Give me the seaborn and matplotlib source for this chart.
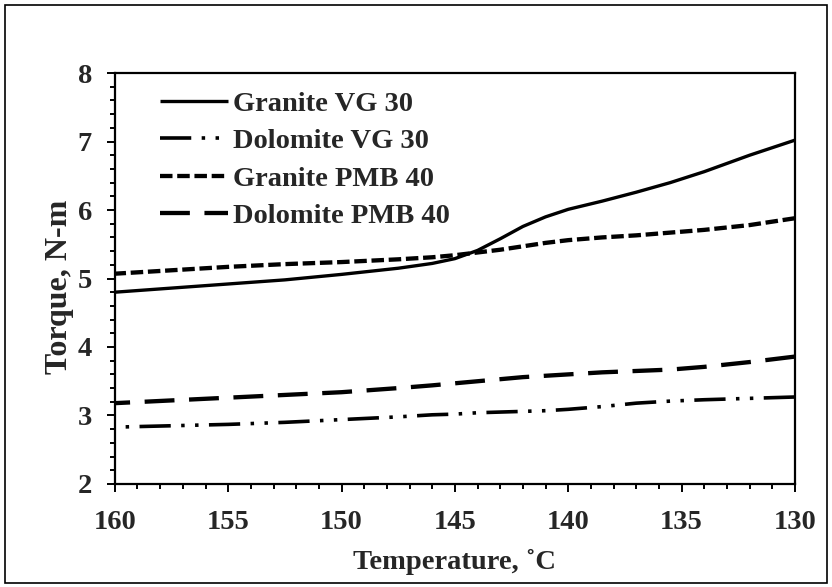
import matplotlib
matplotlib.use("Agg")
import matplotlib.pyplot as plt
from matplotlib.patches import Rectangle
from matplotlib.ticker import MultipleLocator
import numpy as np
import pandas as pd
import seaborn as sns

# Test temperatures (deg C) and measured torque (N-m) for each binder/aggregate mix
temperature = [160, 157.5, 155, 152.5, 150, 147.5, 146, 145, 144, 143, 142, 141,
               140, 138.5, 137, 135.5, 134, 132, 130]
granite_vg30 = [4.80, 4.86, 4.92, 4.98, 5.06, 5.15, 5.22, 5.29, 5.41, 5.58, 5.76, 5.90,
                6.01, 6.13, 6.26, 6.40, 6.56, 6.80, 7.02]
dolomite_vg30 = [2.83, 2.85, 2.87, 2.90, 2.94, 2.98, 3.01, 3.02, 3.04, 3.05, 3.06, 3.07,
                 3.09, 3.13, 3.18, 3.21, 3.23, 3.25, 3.27]
granite_pmb40 = [5.07, 5.12, 5.17, 5.21, 5.24, 5.28, 5.31, 5.34, 5.38, 5.42, 5.47, 5.52,
                 5.56, 5.60, 5.63, 5.67, 5.71, 5.78, 5.88]
dolomite_pmb40 = [3.18, 3.22, 3.26, 3.30, 3.34, 3.40, 3.44, 3.47, 3.50, 3.53, 3.56, 3.58,
                  3.60, 3.63, 3.65, 3.67, 3.71, 3.78, 3.86]

series_names = ["Granite VG 30", "Dolomite VG 30", "Granite PMB 40", "Dolomite PMB 40"]
series_values = [granite_vg30, dolomite_vg30, granite_pmb40, dolomite_pmb40]

sns.set_theme(style="white")
plt.rcParams["font.family"] = ["Liberation Serif", "DejaVu Serif"]
plt.rcParams["font.weight"] = "bold"
plt.rcParams["lines.scale_dashes"] = False

FS = 20.5

line_styles = {
    "Granite VG 30": dict(linestyle="-", linewidth=2.4),
    "Dolomite VG 30": dict(linestyle=(0, (22.5, 7.5, 2.5, 7.5, 2.5, 7.5)), linewidth=2.6),
    "Granite PMB 40": dict(linestyle=(0, (9, 3.4)), linewidth=3.1),
    "Dolomite PMB 40": dict(linestyle=(0, (21.5, 10.5)), linewidth=3.1),
}

fig = plt.figure(figsize=(8.32, 5.87), dpi=100)
ax = fig.add_axes([0.138, 0.1755, 0.8175, 0.7001])

for name, vals in zip(series_names, series_values):
    df = pd.DataFrame({"Temperature": temperature, "Torque": vals})
    sns.lineplot(data=df, x="Temperature", y="Torque", ax=ax, color="black",
                 label=name, dash_capstyle="butt", solid_capstyle="butt",
                 solid_joinstyle="round", **line_styles[name])

ax.set_xlim(160, 130)
ax.set_ylim(2, 8)
ax.xaxis.set_major_locator(MultipleLocator(5))
ax.xaxis.set_minor_locator(MultipleLocator(1))
ax.yaxis.set_major_locator(MultipleLocator(1))
ax.yaxis.set_minor_locator(MultipleLocator(0.2))

for side in ["left", "right", "top", "bottom"]:
    ax.spines[side].set_visible(True)
    ax.spines[side].set_color("black")
    ax.spines[side].set_linewidth(1.6)

ax.tick_params(axis="both", which="both", direction="out", color="black",
               width=1.4, left=True, bottom=True, right=False, top=False)
ax.tick_params(axis="both", which="major", length=5.5, labelsize=FS)
ax.tick_params(axis="both", which="minor", length=3.8)
ax.tick_params(axis="x", which="major", pad=13)
ax.tick_params(axis="y", which="major", pad=11)
for lbl in ax.get_xticklabels() + ax.get_yticklabels():
    lbl.set_fontweight("bold")

ax.set_xlabel("Temperature, \u02daC", fontsize=FS, fontweight="bold", labelpad=10)
ax.set_ylabel("Torque, N-m", fontsize=23, fontweight="bold")
ax.yaxis.set_label_coords(-0.06, 0.48)

ax.legend(loc="upper left", frameon=False, handlelength=2.4, handletextpad=0.18,
          labelspacing=0.4, borderaxespad=0, borderpad=0,
          bbox_to_anchor=(0.066, 0.956),
          prop={"family": ["Liberation Serif"], "weight": "bold", "size": FS})

# Chart-area border
fig.patches.append(Rectangle((0.006, 0.006), 0.988, 0.986, transform=fig.transFigure,
                             fill=False, edgecolor="black", linewidth=1.2))

fig.savefig("out.png", dpi=100)
